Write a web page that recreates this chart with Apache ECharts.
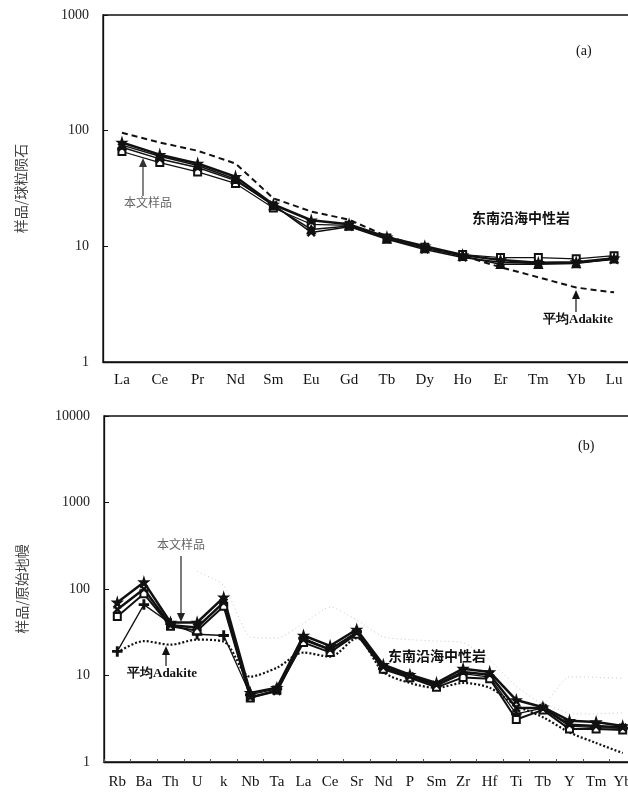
<!DOCTYPE html>
<html>
<head>
<meta charset="utf-8">
<script src="https://cdn.jsdelivr.net/npm/echarts@6/dist/echarts.min.js"></script>
<style>
html, body { margin: 0; padding: 0; background: #fff; overflow: hidden; }
#main { width: 690px; height: 792px; }
</style>
</head>
<body>
<div id="main"></div>
<script>
// (a) 稀土元素球粒陨石标准化
var reeCats = ['La', 'Ce', 'Pr', 'Nd', 'Sm', 'Eu', 'Gd', 'Tb', 'Dy', 'Ho', 'Er', 'Tm', 'Yb', 'Lu'];
var reeS1 = [79, 62, 52, 40, 23, 16.8, 15.5, 12, 10, 8.4, 7.6, 7.2, 7.3, 7.9];
var reeS2 = [75, 60, 50, 38, 22.5, 14, 15, 11.6, 9.6, 8.2, 7.0, 7.0, 7.1, 7.8];
var reeS3 = [66, 53, 44, 35, 21.5, 15.5, 15.2, 11.8, 9.8, 8.5, 8.0, 8.0, 7.8, 8.3];
var reeS4 = [72, 57, 48, 37, 22.8, 13.2, 14.8, 11.5, 9.4, 8.0, 7.3, 7.1, 7.2, 7.7];
var reeAdakite = [96, 79, 67, 52, 26, 20, 17, 12.2, 9.8, 8.3, 6.6, 5.4, 4.4, 4.0];

// (b) 微量元素原始地幔标准化
var spCats = ['Rb', 'Ba', 'Th', 'U', 'k', 'Nb', 'Ta', 'La', 'Ce', 'Sr', 'Nd', 'P', 'Sm', 'Zr', 'Hf', 'Ti', 'Tb', 'Y', 'Tm', 'Yb'];
var spS1 = [70, 120, 41, 41, 80, 6.3, 7.2, 29, 22, 34, 13.3, 10.2, 8.2, 12, 11, 5.2, 4.3, 3.0, 2.9, 2.6];
var spS2 = [58, 100, 38, 36, 70, 5.6, 6.6, 26, 20, 31, 12.5, 9.8, 7.8, 11, 10.2, 4.2, 4.2, 2.7, 2.6, 2.5];
var spS3 = [48, 88, 37, 33, 63, 5.5, 6.8, 24, 18.5, 30, 11.8, 9.4, 7.3, 9.5, 9.2, 3.1, 4.0, 2.4, 2.4, 2.35];
var spS4 = [19, 66, 40, 30, 29, 6.0, 7.0, 27, 20, 32, 12, 9.6, 7.6, 10.5, 9.6, 3.6, 4.2, 2.6, 2.5, 2.45];
var spAdakite = [18.5, 25, 22.7, 26, 24.6, 9.7, 12.3, 18.4, 16.5, 27, 11, 8.2, 7.2, 8.2, 7.2, 4.5, 3.3, 2.2, 1.66, 1.27];
var fieldTop = [null, null, null, 160, 110, 28, 27, 40, 62, 44, 28, 26, 25, 24, 15, 7.5, 4.8, 9.7, 9.5, 9.3];
var fieldBot = [null, null, null, null, null, null, null, null, null, null, null, null, null, null, null, null, 4.8, 3.6, 3.6, 3.7];

var serif = '"Liberation Serif", "DejaVu Serif", serif';
var cjk = '"Noto Sans CJK SC", sans-serif';

var starPath = 'path://M50,0 L61,35 L98,35 L68,57 L79,91 L50,70 L21,91 L32,57 L2,35 L39,35 Z';
var xPath = 'path://M0,10 L10,0 L50,40 L90,0 L100,10 L60,50 L100,90 L90,100 L50,60 L10,100 L0,90 L40,50 Z';
var plusPath = 'path://M42,0 L58,0 L58,42 L100,42 L100,58 L58,58 L58,100 L42,100 L42,58 L0,58 L0,42 L42,42 Z';

function sample(name, data, xi, symbol, size, width) {
    return {
        name: name, type: 'line', xAxisIndex: xi, yAxisIndex: xi, data: data,
        symbol: symbol, symbolSize: size,
        lineStyle: { color: '#111', width: width },
        itemStyle: { color: '#111', borderColor: '#111', borderWidth: 1.5 },
        z: 5
    };
}

function logY(gi, max, name) {
    return {
        type: 'log', logBase: 10, min: 1, max: max, gridIndex: gi,
        name: name, nameLocation: 'middle', nameRotate: 90, nameGap: 75,
        nameTextStyle: { fontFamily: cjk, fontSize: 14, color: '#444' },
        axisLine: { show: true, lineStyle: { color: '#111', width: 1.3 } },
        axisTick: { show: true, inside: true, length: 5, lineStyle: { color: '#111' } },
        splitLine: { show: false },
        axisLabel: {
            margin: 14, fontFamily: serif, fontSize: 14, color: '#222',
            formatter: function (v) { return String(Math.round(v)); }
        }
    };
}

function catX(gi, cats, margin, tick) {
    return {
        type: 'category', gridIndex: gi, data: cats, boundaryGap: true,
        axisLine: { show: true, lineStyle: { color: '#111', width: 1.3 } },
        axisTick: { show: tick, inside: true, length: 3, lineStyle: { color: '#555' } },
        splitLine: { show: false },
        axisLabel: { interval: 0, margin: margin, fontFamily: serif, fontSize: 15, color: '#111' }
    };
}

function arrow(x, y1, y2, color) {
    // line from y1 to y2 with head at y2
    var dir = y2 > y1 ? 1 : -1;
    return [
        { type: 'line', shape: { x1: x, y1: y1, x2: x, y2: y2 - dir * 6 }, style: { stroke: color, lineWidth: 1.2 }, z: 20 },
        { type: 'polygon', shape: { points: [[x - 4, y2 - dir * 9], [x + 4, y2 - dir * 9], [x, y2]] }, style: { fill: color }, z: 20 }
    ];
}

var graphics = [
    { type: 'text', left: 576, top: 44, style: { text: '(a)', font: '14px ' + serif, fill: '#111' }, z: 20 },
    { type: 'text', left: 472, top: 211, style: { text: '东南沿海中性岩', font: 'bold 14px ' + cjk, fill: '#111' }, z: 20 },
    { type: 'text', left: 124, top: 196, style: { text: '本文样品', font: '12px ' + cjk, fill: '#666' }, z: 20 },
    { type: 'text', left: 543, top: 313, style: { text: '平均Adakite', font: 'bold 13px ' + serif, fill: '#111' }, z: 20 },
    { type: 'text', left: 578, top: 439, style: { text: '(b)', font: '14px ' + serif, fill: '#111' }, z: 20 },
    { type: 'text', left: 388, top: 649, style: { text: '东南沿海中性岩', font: 'bold 14px ' + cjk, fill: '#111' }, z: 20 },
    { type: 'text', left: 157, top: 538, style: { text: '本文样品', font: '12px ' + cjk, fill: '#666' }, z: 20 },
    { type: 'text', left: 127, top: 667, style: { text: '平均Adakite', font: 'bold 13px ' + serif, fill: '#111' }, z: 20 }
].concat(arrow(143, 196, 158, '#333'))
 .concat(arrow(576, 312, 290, '#111'))
 .concat(arrow(181, 556, 622, '#222'))
 .concat(arrow(166, 666, 646, '#111'));

var option = {
    backgroundColor: '#fff',
    animation: false,
    grid: [
        { left: 103, top: 15, width: 530, height: 347, show: true, borderColor: '#111', borderWidth: 1.3, backgroundColor: 'transparent' },
        { left: 104, top: 416, width: 532, height: 346, show: true, borderColor: '#111', borderWidth: 1.3, backgroundColor: 'transparent' }
    ],
    xAxis: [catX(0, reeCats, 11, false), catX(1, spCats, 13, true)],
    yAxis: [logY(0, 1000, '样品/球粒陨石'), logY(1, 10000, '样品/原始地幔')],
    graphic: graphics,
    series: [
        {
            name: '平均Adakite', type: 'line', xAxisIndex: 0, yAxisIndex: 0, data: reeAdakite,
            symbol: 'none', lineStyle: { color: '#111', width: 2, type: [6, 4] }, z: 4
        },
        sample('s3', reeS3, 0, 'emptyRect', 7, 1.2),
        sample('s4', reeS4, 0, xPath, 7, 1.5),
        sample('s2', reeS2, 0, 'triangle', 8, 1.5),
        sample('s1', reeS1, 0, starPath, 9, 2.5),
        {
            name: 'field top', type: 'line', xAxisIndex: 1, yAxisIndex: 1, data: fieldTop,
            symbol: 'none', connectNulls: false, smooth: 0.2,
            lineStyle: { color: '#c8c8c8', width: 1, type: [1, 3] }, z: 2
        },
        {
            name: 'field bottom', type: 'line', xAxisIndex: 1, yAxisIndex: 1, data: fieldBot,
            symbol: 'none', connectNulls: false,
            lineStyle: { color: '#c8c8c8', width: 1, type: [1, 3] }, z: 2
        },
        {
            name: '平均Adakite b', type: 'line', xAxisIndex: 1, yAxisIndex: 1, data: spAdakite,
            symbol: 'none', smooth: 0.3, lineStyle: { color: '#111', width: 2.2, type: [2, 2] }, z: 4
        },
        sample('b4', spS4, 1, plusPath, 9, 1.3),
        sample('b3', spS3, 1, 'emptyRect', 7, 2),
        sample('b2', spS2, 1, xPath, 7, 2.5),
        sample('b1', spS1, 1, starPath, 9, 2.5)
    ]
};

var myChart = echarts.init(document.getElementById('main'), null, { renderer: 'canvas' });
myChart.setOption(option);
</script>
</body>
</html>
